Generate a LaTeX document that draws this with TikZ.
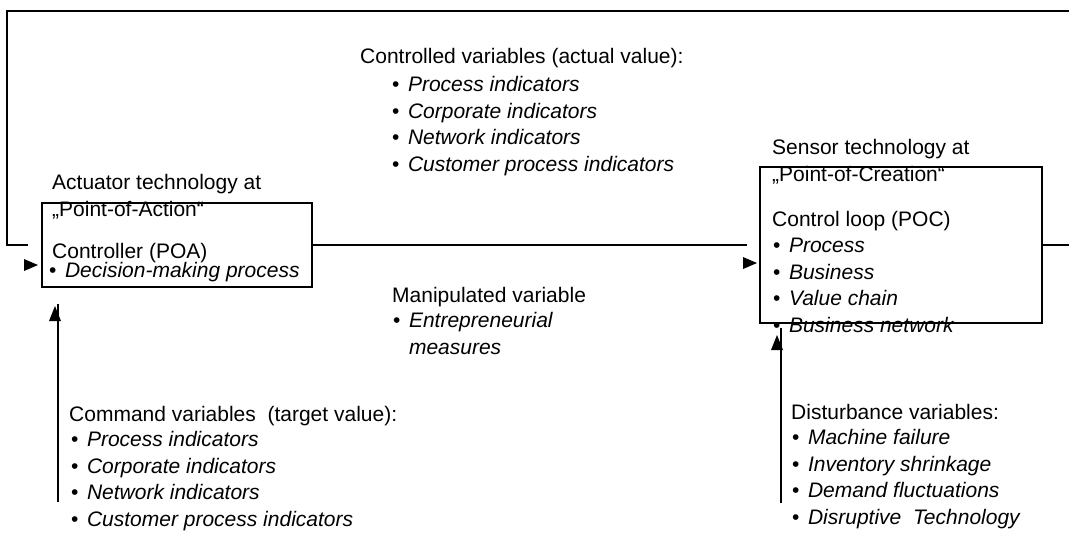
\documentclass[tikz,border=0pt]{standalone}
\usepackage{fontspec}
\setmainfont{Liberation Sans}
\usetikzlibrary{arrows.meta}
\newcommand{\itm}{•\hspace{8.5pt}}
\begin{document}
\begin{tikzpicture}[x=1pt,y=-1pt,
    txt/.style={anchor=base west,inner sep=0pt,align=left,font=\fontsize{21}{26.5}\selectfont},
    ctrlbox/.style={draw,line width=1.6pt,inner sep=0pt},
    wire/.style={line width=1.4pt}]
    \useasboundingbox (0,0) rectangle (1069,533);
    % controller and sensor boxes
    \node[ctrlbox,minimum width=270pt,minimum height=84pt] (poa) at (177,245) {};
    \node[ctrlbox,minimum width=282pt,minimum height=156pt] (poc) at (901,245) {};
    % feedback loop
    \coordinate (loopR) at (1080,245);
    \coordinate (loopL) at (7,11);
    \coordinate (inL) at (28,245);
    \coordinate (inM) at (747,245);
    \draw[wire] (poc.east) -- (loopR) |- (loopL) -- (loopL |- inL) -- (inL);
    \draw[wire] (poa.east) -- (inM);
    \fill (38,265) -- ++(-14,-6) -- ++(0,12) -- cycle;
    \fill (757,263) -- ++(-14,-6) -- ++(0,12) -- cycle;
    % command and disturbance inputs
    \coordinate (cmdS) at (58,502);
    \coordinate (cmdT) at (58,304);
    \coordinate (dstS) at (781,503);
    \coordinate (dstT) at (781,328);
    \draw[wire] (cmdS) -- (cmdT);
    \draw[wire] (dstS) -- (dstT);
    \fill (55,306) -- ++(-6,15) -- ++(12,0) -- cycle;
    \fill (777,335) -- ++(-6,15) -- ++(12,0) -- cycle;
    % texts (multi-line nodes sit on the baseline of their last line)
    \node[txt] (ctlhead) at (360,63) {Controlled variables (actual value):};
    \node[txt] (ctllist) at (392,171) {\itm\textit{Process indicators}\\\itm\textit{Corporate indicators}\\\itm\textit{Network indicators}\\\itm\textit{Customer process indicators}};
    \node[txt] (poahead) at (52,216) {Actuator technology at\\„Point-of-Action“};
    \node[txt] (poatitle) at (52,258) {Controller (POA)};
    \node[txt] (poaitem) at (49,277) {\itm\textit{Decision-making process}};
    \node[txt] (pochead) at (772,181) {Sensor technology at\\„Point-of-Creation“};
    \node[txt] (poctitle) at (772,226) {Control loop (POC)};
    \node[txt] (poclist) at (773,332) {\itm\textit{Process}\\\itm\textit{Business}\\\itm\textit{Value chain}\\\itm\textit{Business network}};
    \node[txt] (manhead) at (392,302) {Manipulated variable};
    \node[txt] (manlist) at (393,354) {\itm\textit{Entrepreneurial}\\\phantom{\itm}\textit{measures}};
    \node[txt] (cmdhead) at (69,421) {Command variables\ \ (target value):};
    \node[txt] (cmdlist) at (71,526) {\itm\textit{Process indicators}\\\itm\textit{Corporate indicators}\\\itm\textit{Network indicators}\\\itm\textit{Customer process indicators}};
    \node[txt] (dsthead) at (791,419) {Disturbance variables:};
    \node[txt] (dstlist) at (792,524) {\itm\textit{Machine failure}\\\itm\textit{Inventory shrinkage}\\\itm\textit{Demand fluctuations}\\\itm\textit{Disruptive~ Technology}};
\end{tikzpicture}
\end{document}
